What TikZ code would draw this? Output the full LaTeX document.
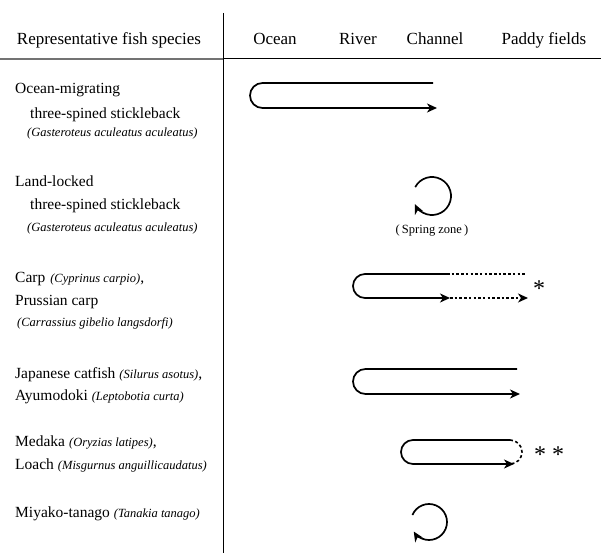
\documentclass[tikz,border=0pt]{standalone}
\usepackage{fontspec}
\setmainfont{Liberation Serif}
\usetikzlibrary{arrows.meta,calc}
\newcommand\latn[1]{{\fontsize{12.5}{15}\selectfont\itshape #1}}
\begin{document}
\begin{tikzpicture}[x=1pt,y=1pt,
  hdr/.style={font=\fontsize{17}{20}\selectfont, anchor=base, inner sep=0pt},
  lbl/.style={font=\fontsize{15.5}{18}\selectfont, anchor=base west, inner sep=0pt},
  sci/.style={font=\fontsize{12.5}{15}\selectfont\itshape, anchor=base west, inner sep=0pt},
  note/.style={font=\fontsize{12.5}{14}\selectfont, anchor=base, inner sep=0pt},
  starlbl/.style={font=\fontsize{24}{26}\selectfont, anchor=base, inner sep=0pt},
  tip/.style={-{Stealth[length=10pt,width=9pt,inset=3pt]}},
  mig/.style={line width=1.7pt, tip},
  dotmig/.style={line width=1.5pt, dash pattern=on 2.5pt off 2.2pt},
  dashmig/.style={line width=1.6pt, dash pattern=on 3pt off 2.5pt},
  rule/.style={line width=1pt}
]
\useasboundingbox (0,0) rectangle (603,-553);

% rules
\coordinate (vtop) at (223,-13);
\coordinate (vbot) at (223,-553);
\coordinate (hl) at (0,-59);
\coordinate (hm) at (223,-59);
\coordinate (hr) at (601,-59);
\draw[rule] (vtop) -- (vbot);
\draw[line width=1.3pt, black!55] (hl) -- (hm);
\draw[rule] (hm) -- (hr);

% header
\node[hdr] (h0) at (109,-45) {Representative fish species};
\node[hdr] (h1) at (275,-45) {Ocean};
\node[hdr] (h2) at (358,-45) {River};
\node[hdr] (h3) at (435,-45) {Channel};
\node[hdr] (h4) at (544,-45) {Paddy fields};

% species labels
\node[lbl] (s1a) at (15,-94) {Ocean-migrating};
\node[lbl] (s1b) at (30,-119) {three-spined stickleback};
\node[sci] (s1c) at (27,-137) {(Gasteroteus aculeatus aculeatus)};

\node[lbl] (s2a) at (15,-187) {Land-locked};
\node[lbl] (s2b) at (30,-210) {three-spined stickleback};
\node[sci] (s2c) at (27,-232) {(Gasteroteus aculeatus aculeatus)};

\node[lbl] (s3a) at (15,-283) {Carp\hspace{5pt}\latn{(Cyprinus carpio)},};
\node[lbl] (s3b) at (15,-306) {Prussian carp};
\node[sci] (s3c) at (17,-327) {(Carrassius gibelio langsdorfi)};

\node[lbl] (s4a) at (15,-379) {Japanese catfish\hspace{4pt}\latn{(Silurus asotus)},};
\node[lbl] (s4b) at (15,-401) {Ayumodoki\hspace{4pt}\latn{(Leptobotia curta)}};

\node[lbl] (s5a) at (15,-447) {Medaka\hspace{4pt}\latn{(Oryzias latipes)},};
\node[lbl] (s5b) at (15,-470) {Loach\hspace{4pt}\latn{(Misgurnus anguillicaudatus)}};

\node[lbl] (s6a) at (15,-517) {Miyako-tanago\hspace{4pt}\latn{(Tanakia tanago)}};

% row 1: ocean-migrating
\coordinate (a1t) at (433,-83);
\coordinate (a1b) at (437,-108);
\draw[mig] (a1t) -- (262.5,-83) arc[start angle=90,end angle=270,radius=12.5] -- (a1b);

% row 2: land-locked loop
\coordinate (c2) at (432,-196);
\draw[mig] ($(c2)+(152:19)$) arc[start angle=152,end angle=-155,radius=19];
\node[note] (sz) at (432,-234) {(\,Spring zone\,)};

% row 3: carp
\coordinate (a3t) at (447,-274);
\coordinate (a3b) at (450,-298);
\coordinate (a3te) at (525,-274);
\coordinate (a3be) at (528,-298);
\draw[mig] (a3t) -- (365,-274) arc[start angle=90,end angle=270,radius=12] -- (a3b);
\draw[dotmig] (a3t) -- (a3te);
\draw[dotmig, tip] (a3b) -- (a3be);
\node[starlbl] (st3) at (539,-297) {*};

% row 4: catfish
\coordinate (a4t) at (517,-369);
\coordinate (a4b) at (520,-394);
\draw[mig] (a4t) -- (365.5,-369) arc[start angle=90,end angle=270,radius=12.5] -- (a4b);

% row 5: medaka
\coordinate (a5t) at (510,-440);
\coordinate (a5b) at (514,-464);
\draw[mig] (a5t) -- (413,-440) arc[start angle=90,end angle=270,radius=12] -- (a5b);
\draw[dashmig] (a5t) arc[start angle=90,end angle=-90,radius=12];
\node[starlbl] (st5a) at (540,-463) {*};
\node[starlbl] (st5b) at (558,-463) {*};

% row 6: miyako-tanago loop
\coordinate (c6) at (429,-522);
\draw[mig] ($(c6)+(157:18)$) arc[start angle=157,end angle=-148,radius=18];
\end{tikzpicture}
\end{document}
